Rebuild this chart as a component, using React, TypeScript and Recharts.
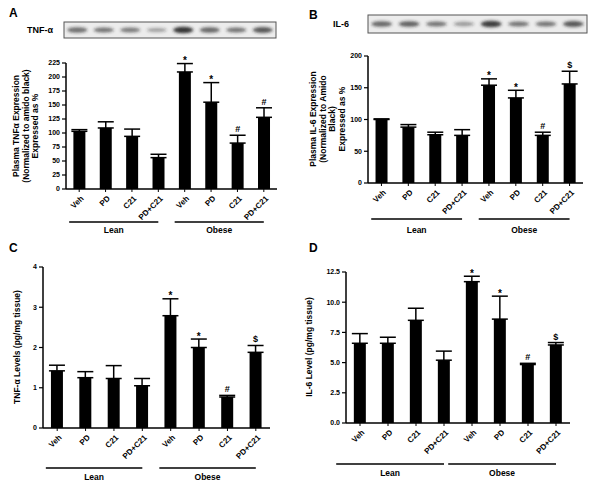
import React from 'react';
import { ComposedChart, Bar, ErrorBar, XAxis, YAxis } from 'recharts';

const categories = ['Veh', 'PD', 'C21', 'PD+C21', 'Veh', 'PD', 'C21', 'PD+C21'];
const groups = ['Lean', 'Obese'];

// panel A: plasma TNF-a western blot (% of lean veh)
const tnfBlotValues = [103, 109, 94, 56, 209, 155, 82, 128];
const tnfBlotErrors = [3, 11, 13, 6, 15, 35, 14, 17];
const tnfBlotMarks = ['', '', '', '', '*', '*', '#', '#'];
const tnfBlotTicks = [0, 25, 50, 75, 100, 125, 150, 175, 200, 225];
const tnfBandIntensity = [0.55, 0.5, 0.45, 0.2, 0.95, 0.6, 0.5, 0.7];

// panel B: plasma IL-6 western blot
const il6BlotValues = [100, 88, 76, 75, 154, 134, 75, 156];
const il6BlotErrors = [1, 4, 4, 9, 10, 12, 5, 20];
const il6BlotMarks = ['', '', '', '', '*', '*', '#', '$'];
const il6BlotTicks = [0, 50, 100, 150, 200];
const il6BandIntensity = [0.6, 0.65, 0.5, 0.25, 0.9, 0.5, 0.5, 0.7];

// panel C: tissue TNF-a
const tnfTissueValues = [1.42, 1.25, 1.23, 1.05, 2.79, 2.0, 0.77, 1.88];
const tnfTissueErrors = [0.14, 0.15, 0.32, 0.18, 0.42, 0.21, 0.04, 0.17];
const tnfTissueMarks = ['', '', '', '', '*', '*', '#', '$'];
const tnfTissueTicks = [0, 1, 2, 3, 4];

// panel D: tissue IL-6
const il6TissueValues = [6.6, 6.6, 8.5, 5.2, 11.7, 8.6, 4.84, 6.46];
const il6TissueErrors = [0.8, 0.5, 1.0, 0.75, 0.45, 1.9, 0.1, 0.2];
const il6TissueMarks = ['', '', '', '', '*', '*', '#', '$'];
const il6TissueTicks = [0, 2.5, 5, 7.5, 10, 12.5];

const FONT = '"Liberation Sans", Arial, sans-serif';
const X_AXIS_H = 20;

type PanelProps = {
  left: number;
  top: number;
  width: number;
  height: number;
  margin: { top: number; right: number; bottom: number; left: number };
  yWidth: number;
  values: number[];
  errors: number[];
  marks: string[];
  ticks: number[];
  tickFmt?: (v: number) => string;
  groupLineDy: number; // below the x axis line
  groupTextDy: number;
  groupStart: number; // how far (in steps) the group line starts left of the first bar center
};

const Panel = (p: PanelProps) => {
  // error bars only go up: lower bound 0 so nothing shows inside the black bar
  const data = p.values.map((v, i) => ({ id: i, value: v, err: [0, p.errors[i]] }));
  const plotW = p.width - p.margin.left - p.margin.right - p.yWidth;
  const step = plotW / categories.length;
  const axisY = p.height - p.margin.bottom - X_AXIS_H;

  const XTick = (props: any) => {
    const { x, payload, index } = props;
    const name = categories[payload.value];
    const g = index === 0 ? 0 : index === 4 ? 1 : -1;
    const x1 = x - step * p.groupStart;
    const x2 = x + step * 3;
    return (
      <g>
        <text
          x={0}
          y={0}
          textAnchor="end"
          transform={`translate(${x + 5},${axisY + 10}) rotate(-45)`}
          fontSize={8}
          fontWeight="bold"
          fontFamily={FONT}
          fill="#000"
        >
          {name}
        </text>
        {g >= 0 && (
          <g>
            <line x1={x1} x2={x2} y1={axisY + p.groupLineDy} y2={axisY + p.groupLineDy} stroke="#000" strokeWidth={1.5} />
            <text
              x={(x1 + x2) / 2}
              y={axisY + p.groupTextDy}
              textAnchor="middle"
              fontSize={8.5}
              fontWeight="bold"
              fontFamily={FONT}
              fill="#000"
            >
              {groups[g]}
            </text>
          </g>
        )}
      </g>
    );
  };

  const renderMark = (props: any) => {
    const { x, y, width, height, index, value } = props;
    const m = p.marks[index];
    if (!m) return null;
    const pxPer = height / value;
    const topPx = y - p.errors[index] * pxPer;
    return (
      <text
        x={x + width / 2}
        y={m === '*' ? topPx + 0.5 : topPx - 3}
        textAnchor="middle"
        fontSize={m === '*' ? 10 : 9}
        fontWeight="bold"
        fontFamily={FONT}
        fill="#000"
      >
        {m}
      </text>
    );
  };

  return (
    <div style={{ position: 'absolute', left: p.left, top: p.top }}>
      <ComposedChart width={p.width} height={p.height} data={data} margin={p.margin} barCategoryGap="28%">
        <XAxis
          dataKey="id"
          type="category"
          axisLine={{ stroke: '#000', strokeWidth: 1.5 }}
          tickLine={{ stroke: '#000', strokeWidth: 1 }}
          tickSize={3}
          tick={<XTick />}
          interval={0}
          height={X_AXIS_H}
        />
        <YAxis
          width={p.yWidth}
          domain={[p.ticks[0], p.ticks[p.ticks.length - 1]]}
          ticks={p.ticks}
          tickFormatter={p.tickFmt}
          axisLine={{ stroke: '#000', strokeWidth: 1.5 }}
          tickLine={{ stroke: '#000', strokeWidth: 1.2 }}
          tickSize={4}
          tick={{ fontSize: 7, fontWeight: 'bold', fontFamily: FONT, fill: '#000' }}
        />
        <Bar dataKey="value" fill="#000" isAnimationActive={false} label={renderMark}>
          <ErrorBar dataKey="err" direction="y" width={8} stroke="#000" strokeWidth={1.5} />
        </Bar>
      </ComposedChart>
    </div>
  );
};

const Blot = ({ left, top, width, height, bands, label, labelX }: any) => {
  const slot = width / bands.length;
  return (
    <g>
      <defs>
        <filter id={`blur-${label}`} x="-50%" y="-50%" width="200%" height="200%">
          <feGaussianBlur stdDeviation="1.6" />
        </filter>
      </defs>
      <text x={labelX} y={top + height / 2 + 3} fontSize={9} fontWeight="bold" fontFamily={FONT} fill="#000">
        {label}
      </text>
      <rect x={left} y={top} width={width} height={height} fill="#ececec" stroke="#555" strokeWidth={1} />
      <g filter={`url(#blur-${label})`}>
        {bands.map((b: number, i: number) => (
          <ellipse
            key={i}
            cx={left + slot * (i + 0.5)}
            cy={top + height / 2}
            rx={slot * 0.38}
            ry={1.8 + b * 1.6}
            fill="#222"
            fillOpacity={0.25 + b * 0.7}
          />
        ))}
      </g>
    </g>
  );
};

const YLabel = ({ x, cy, lines }: { x: number; cy: number; lines: string[] }) => (
  <g>
    {lines.map((line, i) => {
      const lx = x + i * 9.5;
      return (
        <text
          key={i}
          x={lx}
          y={cy}
          transform={`rotate(-90 ${lx} ${cy})`}
          textAnchor="middle"
          dominantBaseline="central"
          fontSize={8.5}
          fontWeight="bold"
          fontFamily={FONT}
          fill="#000"
        >
          {line}
        </text>
      );
    })}
  </g>
);

const letterStyle: React.CSSProperties = {
  position: 'absolute',
  fontFamily: FONT,
  fontWeight: 'bold',
  fontSize: 12,
  color: '#000',
};

export default function App() {
  return (
    <div style={{ position: 'absolute', left: 0, top: 0, width: 600, height: 489, background: '#fff', overflow: 'hidden' }}>
      <svg style={{ position: 'absolute', left: 0, top: 0 }} width={600} height={489}>
        <Blot left={64} top={22} width={212} height={16} bands={tnfBandIntensity} label="TNF-α" labelX={27} />
        <Blot left={368} top={15} width={219} height={18} bands={il6BandIntensity} label="IL-6" labelX={333} />
        <YLabel x={16} cy={126} lines={['Plasma TNFα Expression', '(Normalized to amido black)', 'Expressed as %']} />
        <YLabel x={313} cy={119} lines={['Plasma IL-6 Expression', '(Normalized to Amido', 'Black)', 'Expressed as %']} />
        <YLabel x={17} cy={347} lines={['TNF-α Levels (pg/mg tissue)']} />
        <YLabel x={309} cy={347} lines={['IL-6 Level (pg/mg tissue)']} />
      </svg>
      <div style={{ ...letterStyle, left: 9, top: 6 }}>A</div>
      <div style={{ ...letterStyle, left: 309, top: 8 }}>B</div>
      <div style={{ ...letterStyle, left: 9, top: 241 }}>C</div>
      <div style={{ ...letterStyle, left: 309, top: 241 }}>D</div>

      <Panel
        left={0}
        top={0}
        width={300}
        height={240}
        margin={{ top: 63, right: 23, bottom: 31, left: 38 }}
        yWidth={28}
        values={tnfBlotValues}
        errors={tnfBlotErrors}
        marks={tnfBlotMarks}
        ticks={tnfBlotTicks}
        groupLineDy={33}
        groupTextDy={44}
        groupStart={0.38}
      />
      <Panel
        left={300}
        top={0}
        width={300}
        height={240}
        margin={{ top: 56, right: 17, bottom: 37, left: 40 }}
        yWidth={28}
        values={il6BlotValues}
        errors={il6BlotErrors}
        marks={il6BlotMarks}
        ticks={il6BlotTicks}
        groupLineDy={36}
        groupTextDy={50}
        groupStart={0.38}
      />
      <Panel
        left={0}
        top={240}
        width={300}
        height={249}
        margin={{ top: 27, right: 30, bottom: 41, left: 20 }}
        yWidth={23}
        values={tnfTissueValues}
        errors={tnfTissueErrors}
        marks={tnfTissueMarks}
        ticks={tnfTissueTicks}
        groupLineDy={40}
        groupTextDy={52}
        groupStart={0.4}
      />
      <Panel
        left={300}
        top={240}
        width={300}
        height={249}
        margin={{ top: 32, right: 30, bottom: 46, left: 18 }}
        yWidth={28}
        values={il6TissueValues}
        errors={il6TissueErrors}
        marks={il6TissueMarks}
        ticks={il6TissueTicks}
        tickFmt={(v: number) => v.toFixed(1)}
        groupLineDy={41}
        groupTextDy={53}
        groupStart={0.85}
      />
    </div>
  );
}
